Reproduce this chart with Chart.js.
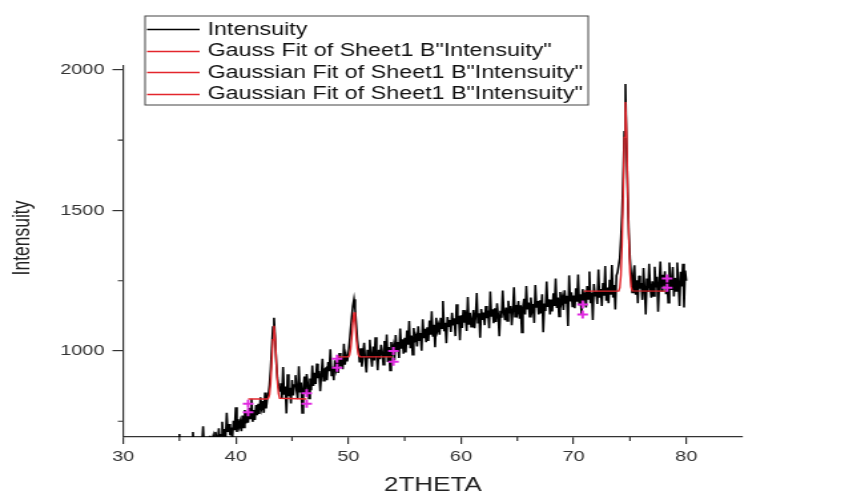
<!DOCTYPE html>
<html>
<head>
<meta charset="utf-8">
<script src="https://cdn.jsdelivr.net/npm/chart.js@4"></script>
<style>
  body { margin: 0; background: #fff; }
  #chart { display: block; width: 865px !important; height: 495px !important; }
</style>
</head>
<body>
<canvas id="chart" width="650" height="495" style="width:865px;height:495px"></canvas>
<script>
// XRD scan, 35.0 .. 80.0 deg 2theta, 0.1 deg step
var scanStart = 35.0;
var scanStep = 0.1;
var intensity = [
  705, 598, 630, 605, 640, 618, 596, 625, 608, 632,
  652, 620, 712, 635, 646, 612, 660, 630, 672, 641,
  668, 732, 650, 676, 640, 688, 655, 698, 662, 683,
  698, 665, 712, 690, 672, 725, 660, 702, 748, 688,
  722, 690, 780, 712, 740, 700, 728, 688, 752, 718,
  800, 712, 758, 730, 748, 715, 770, 728, 790, 742,
  782, 745, 798, 760, 830, 748, 790, 755, 808, 772,
  812, 776, 835, 798, 822, 780, 852, 796, 830, 845,
  880, 935, 1010, 1085, 1118, 1045, 960, 905, 875, 858,
  885, 830, 943, 845, 874, 778, 917, 839, 869, 813,
  897, 842, 879, 914, 858, 829, 946, 853, 888, 780,
  863, 909, 850, 918, 883, 831, 902, 860, 948, 876,
  922, 883, 955, 903, 929, 857, 916, 972, 894, 935,
  939, 896, 961, 928, 1006, 913, 944, 896, 967, 935,
  958, 922, 993, 945, 976, 935, 1026, 951, 984, 963,
  990, 1030, 1075, 1120, 1160, 1184, 1150, 1095, 1040, 1005,
  959, 1010, 944, 991, 1029, 965, 924, 1004, 976, 1040,
  981, 944, 1016, 966, 1049, 989, 932, 1004, 971, 1022,
  999, 951, 1036, 981, 1059, 961, 1014, 931, 1032, 996,
  1017, 967, 1057, 997, 1032, 975, 1080, 1008, 1042, 990,
  1047, 995, 1073, 1022, 1107, 1010, 1055, 987, 1082, 1040,
  1053, 1016, 1088, 1038, 1064, 1001, 1113, 1046, 1079, 1031,
  1084, 1036, 1108, 1058, 1141, 1051, 1093, 1013, 1118, 1073,
  1091, 1058, 1118, 1081, 1178, 1070, 1100, 1028, 1121, 1088,
  1110, 1068, 1136, 1091, 1116, 1053, 1166, 1095, 1125, 1038,
  1127, 1082, 1146, 1101, 1121, 1071, 1192, 1094, 1136, 1086,
  1104, 1146, 1081, 1126, 1206, 1101, 1134, 1047, 1149, 1111,
  1137, 1092, 1160, 1117, 1144, 1081, 1212, 1122, 1148, 1099,
  1152, 1103, 1170, 1125, 1053, 1143, 1118, 1215, 1137, 1110,
  1155, 1107, 1179, 1134, 1160, 1092, 1144, 1227, 1122, 1164,
  1141, 1178, 1115, 1163, 1066, 1156, 1186, 1130, 1231, 1148,
  1172, 1122, 1190, 1145, 1167, 1100, 1235, 1157, 1178, 1130,
  1180, 1134, 1202, 1067, 1169, 1142, 1247, 1157, 1184, 1130,
  1183, 1141, 1205, 1160, 1258, 1153, 1190, 1123, 1210, 1171,
  1191, 1146, 1216, 1171, 1197, 1089, 1269, 1176, 1209, 1156,
  1197, 1152, 1223, 1175, 1272, 1163, 1202, 1130, 1220, 1187,
  1200, 1155, 1231, 1185, 1283, 1170, 1208, 1110, 1238, 1197,
  1212, 1167, 1290, 1190, 1220, 1160, 1242, 1197, 1302, 1179,
  1226, 1170, 1253, 1200, 1306, 1190, 1235, 1148, 1268, 1280,
  1280, 1330, 1400, 1490, 1620, 1780, 1950, 1720, 1560, 1420,
  1330, 1275, 1208, 1275, 1305, 1200, 1252, 1170, 1268, 1222,
  1242, 1182, 1295, 1220, 1130, 1258, 1210, 1310, 1228, 1190,
  1248, 1196, 1300, 1226, 1264, 1140, 1238, 1318, 1214, 1271,
  1232, 1284, 1202, 1254, 1172, 1315, 1239, 1217, 1299, 1194,
  1260, 1214, 1315, 1237, 1160, 1282, 1230, 1310, 1155, 1286,
  1250
];

// Gaussian fits (peak + flat baseline over the fit window)
var fit1Theta = [41.1, 42.8, 42.9, 43.0, 43.1, 43.2, 43.3, 43.4, 43.5, 43.6, 43.7, 43.8, 43.9, 46.3];
var fit1Value = [829, 829, 832, 845, 885, 960, 1040, 1090, 1045, 965, 890, 848, 832, 829];
var fit2Theta = [49.0, 50.0, 50.1, 50.2, 50.3, 50.4, 50.5, 50.6, 50.7, 50.8, 50.9, 51.0, 51.1, 53.9];
var fit2Value = [979, 979, 985, 1005, 1045, 1100, 1138, 1105, 1050, 1008, 986, 980, 979, 979];
var fit3Theta = [70.9, 74.0, 74.1, 74.2, 74.3, 74.4, 74.5, 74.6, 74.7, 74.8, 74.9, 75.0, 75.1, 75.2, 78.3];
var fit3Value = [1213, 1213, 1225, 1270, 1380, 1560, 1760, 1886, 1780, 1580, 1400, 1280, 1228, 1214, 1213];

// fit window markers
var markerTheta = [41.1, 41.1, 46.3, 46.3, 49.0, 49.0, 54.0, 54.0, 70.8, 70.8, 78.3, 78.3];
var markerValue = [812, 782, 850, 812, 972, 940, 1000, 962, 1165, 1130, 1258, 1225];

var seriesLabels = ['Intensuity', 'Gauss Fit of Sheet1 B"Intensuity"',
  'Gaussian Fit of Sheet1 B"Intensuity"', 'Gaussian Fit of Sheet1 B"Intensuity"'];
var yTitle = 'Intensuity';

var xMajorTicks = [30, 40, 50, 60, 70, 80];
var xMinorTicks = [35, 45, 55, 65, 75];
var yMajorTicks = [1000, 1500, 2000];
var yMinorTicks = [750, 1250, 1750];

function toPoints(xs, ys) {
  return ys.map(function(v, i) { return {x: xs[i], y: v}; });
}

var scanPoints = intensity.map(function(v, i) {
  return {x: Math.round((scanStart + i * scanStep) * 10) / 10, y: v};
});

var axisColor = '#333';
var dataBlack = '#000';
var fitRed = '#e3262c';

// minor tick marks, y title and the boxed legend
var extras = {
  id: 'extras',
  afterDraw: function(chart) {
    var ctx = chart.ctx;
    var xs = chart.scales.x, ys = chart.scales.y;
    var area = chart.chartArea;
    ctx.save();
    ctx.strokeStyle = axisColor;
    ctx.lineWidth = 1.2;
    ctx.beginPath();
    xMinorTicks.forEach(function(v) {
      var px = xs.getPixelForValue(v);
      ctx.moveTo(px, area.bottom);
      ctx.lineTo(px, area.bottom + 4);
    });
    yMinorTicks.forEach(function(v) {
      var py = ys.getPixelForValue(v);
      ctx.moveTo(area.left, py);
      ctx.lineTo(area.left - 4, py);
    });
    ctx.stroke();

    // y title sits a little above the middle of the axis
    ctx.save();
    ctx.translate(17, 238);
    ctx.rotate(-Math.PI / 2);
    ctx.fillStyle = '#222';
    ctx.font = '17.5px "Liberation Sans", Arial, sans-serif';
    ctx.textAlign = 'center';
    ctx.textBaseline = 'middle';
    ctx.fillText(yTitle, 0, 0);
    ctx.restore();

    // legend
    var bx = 109, by = 16, bw = 333, bh = 89;
    ctx.fillStyle = '#fff';
    ctx.fillRect(bx, by, bw, bh);
    ctx.strokeStyle = '#444';
    ctx.lineWidth = 1;
    ctx.strokeRect(bx, by, bw, bh);
    ctx.font = '17.5px "Liberation Sans", Arial, sans-serif';
    ctx.textBaseline = 'middle';
    var rows = [29, 50.5, 72, 93.5];
    var swatch = [dataBlack, fitRed, fitRed, fitRed];
    for (var i = 0; i < 4; i++) {
      ctx.strokeStyle = swatch[i];
      ctx.lineWidth = 1.3;
      ctx.beginPath();
      ctx.moveTo(110.5, Math.round(rows[i]) + 0.5);
      ctx.lineTo(150, Math.round(rows[i]) + 0.5);
      ctx.stroke();
      ctx.fillStyle = '#111';
      ctx.fillText(chart.data.datasets[i].label, 156, rows[i] + 1);
    }
    ctx.restore();
  }
};

var ctx = document.getElementById('chart').getContext('2d');
var chart = new Chart(ctx, {
  type: 'line',
  data: {
    datasets: [
      { label: seriesLabels[0], data: scanPoints, borderColor: dataBlack, borderWidth: 1.6, order: 3 },
      { label: seriesLabels[1], data: toPoints(fit1Theta, fit1Value), borderColor: fitRed, borderWidth: 1.4, order: 1 },
      { label: seriesLabels[2], data: toPoints(fit2Theta, fit2Value), borderColor: fitRed, borderWidth: 1.4, order: 1 },
      { label: seriesLabels[3], data: toPoints(fit3Theta, fit3Value), borderColor: fitRed, borderWidth: 1.4, order: 1 },
      { label: 'markers', data: toPoints(markerTheta, markerValue), showLine: false,
        pointStyle: 'cross', pointRadius: 4, pointBorderWidth: 2,
        borderColor: '#e02be0', backgroundColor: '#e02be0', order: 0 }
    ]
  },
  options: {
    responsive: false,
    devicePixelRatio: 1,
    animation: false,
    layout: { padding: { left: 0, right: 92, top: 66, bottom: 0 } },
    elements: { point: { radius: 0 }, line: { tension: 0 } },
    plugins: { legend: { display: false }, tooltip: { enabled: false } },
    scales: {
      x: {
        type: 'linear', min: 30, max: 85,
        afterFit: function(scale) { scale.height = 58; },
        afterBuildTicks: function(scale) {
          scale.ticks = xMajorTicks.map(function(v) { return {value: v}; });
        },
        grid: { drawOnChartArea: false, tickLength: 7, color: axisColor, lineWidth: 1.2 },
        border: { color: axisColor, width: 1.2 },
        ticks: { autoSkip: false, maxRotation: 0, padding: 4, color: '#333',
          font: { family: 'Liberation Sans', size: 15 },
          callback: function(v) { return String(v); } },
        title: { display: true, text: '2THETA', color: '#222', padding: { top: 0, bottom: 0 },
          font: { family: 'Liberation Sans', size: 19.5, lineHeight: 1 } }
      },
      y: {
        min: 694, max: 2014,
        afterFit: function(scale) { scale.width = 92.5; },
        afterBuildTicks: function(scale) {
          scale.ticks = yMajorTicks.map(function(v) { return {value: v}; });
        },
        grid: { drawOnChartArea: false, tickLength: 8, color: axisColor, lineWidth: 1.2 },
        border: { color: axisColor, width: 1.2 },
        ticks: { autoSkip: false, padding: 6, color: '#333',
          font: { family: 'Liberation Sans', size: 15 },
          callback: function(v) { return String(v); } }
      }
    }
  },
  plugins: [extras]
});
</script>
</body>
</html>
